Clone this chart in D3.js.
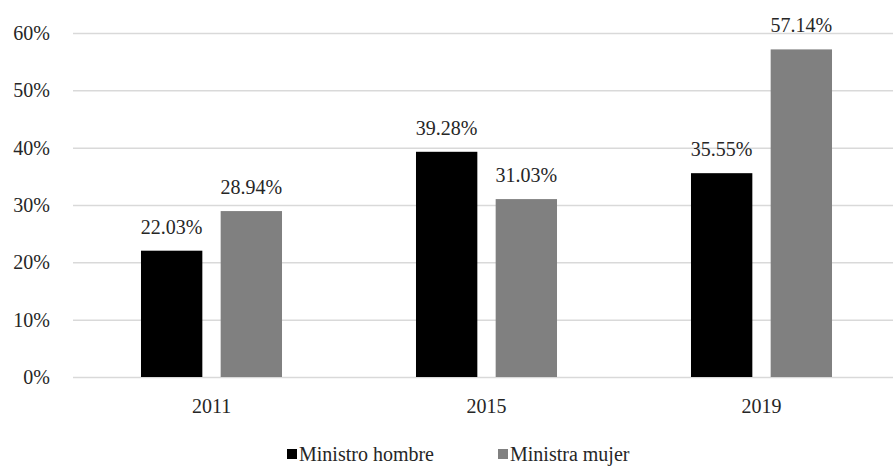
<!DOCTYPE html>
<html>
<head>
<meta charset="utf-8">
<script src="https://cdn.jsdelivr.net/npm/d3@7"></script>
<style>
  html, body { margin: 0; padding: 0; background: #fff; }
  svg { display: block; }
</style>
</head>
<body>
<div id="chart"></div>
<script>
const years = ["2011", "2015", "2019"];
const seriesNames = ["Ministro hombre", "Ministra mujer"];
const hombre = [0.2203, 0.3928, 0.3555];
const mujer = [0.2894, 0.3103, 0.5714];
const yTicks = [0, 0.1, 0.2, 0.3, 0.4, 0.5, 0.6];
const colors = ["#000000", "#808080"];

const FONT = "'Liberation Serif', 'DejaVu Serif', serif";
const W = 893, H = 466;
const margin = { left: 74, right: -6, top: 33, bottom: 89 };

const svg = d3.select("#chart").append("svg").attr("width", W).attr("height", H)
  .attr("font-family", FONT);

const x0 = d3.scaleBand().domain(years).range([margin.left, W - margin.right]).padding(0);
const x1 = d3.scaleBand().domain(seriesNames)
  .range([x0.bandwidth() * 0.2436, x0.bandwidth() * 0.7564])
  .paddingInner(0.23).paddingOuter(0);
const y = d3.scaleLinear().domain([0, 0.6]).range([H - margin.bottom, margin.top]);
const color = d3.scaleOrdinal().domain(seriesNames).range(colors);

// gridlines
const grid = svg.append("g")
  .attr("transform", `translate(${margin.left - 1},0)`)
  .call(d3.axisLeft(y).tickValues(yTicks).tickSize(-(W - margin.left + 10)).tickFormat(""));
grid.select(".domain").remove();
grid.selectAll("line").attr("stroke", "#d9d9d9").attr("stroke-width", 1.5);

// y labels
const yAxis = svg.append("g")
  .attr("transform", `translate(${margin.left - 21},0)`)
  .call(d3.axisLeft(y).tickValues(yTicks).tickSize(0).tickFormat(d3.format(".0%")));
yAxis.attr("font-family", FONT).attr("font-size", 20);
yAxis.select(".domain").remove();
yAxis.selectAll("text").attr("fill", "#262626");

// x labels
const xAxis = svg.append("g")
  .attr("transform", `translate(0,${H - margin.bottom})`)
  .call(d3.axisBottom(x0).tickSize(0).tickPadding(22));
xAxis.attr("font-family", FONT).attr("font-size", 20);
xAxis.select(".domain").remove();
xAxis.selectAll("text").attr("fill", "#262626");

const data = years.map((yr, i) => ({ year: yr, values: [
  { key: seriesNames[0], v: hombre[i] },
  { key: seriesNames[1], v: mujer[i] }
]}));

const groups = svg.selectAll("g.grp").data(data).join("g")
  .attr("class", "grp")
  .attr("transform", d => `translate(${x0(d.year)},0)`);

groups.selectAll("rect").data(d => d.values).join("rect")
  .attr("x", d => x1(d.key))
  .attr("width", x1.bandwidth())
  .attr("y", d => y(d.v))
  .attr("height", d => y(0) - y(d.v))
  .attr("fill", d => color(d.key));

groups.selectAll("text.lbl").data(d => d.values).join("text")
  .attr("class", "lbl")
  .attr("x", d => x1(d.key) + x1.bandwidth() / 2)
  .attr("y", d => y(d.v) - 17)
  .attr("text-anchor", "middle")
  .attr("font-family", FONT)
  .attr("font-size", 20)
  .attr("fill", "#262626")
  .text(d => d3.format(".2%")(d.v));

// legend
const legend = svg.append("g").attr("transform", `translate(0,${H - 5})`);
const legendX = [287, 498];
seriesNames.forEach((s, i) => {
  const g = legend.append("g").attr("transform", `translate(${legendX[i]},0)`);
  g.append("rect").attr("x", 0).attr("y", -12).attr("width", 10).attr("height", 10).attr("fill", color(s));
  g.append("text").attr("x", 12).attr("y", 0).attr("font-family", FONT)
    .attr("font-size", 20).attr("fill", "#262626").text(s);
});
</script>
</body>
</html>
